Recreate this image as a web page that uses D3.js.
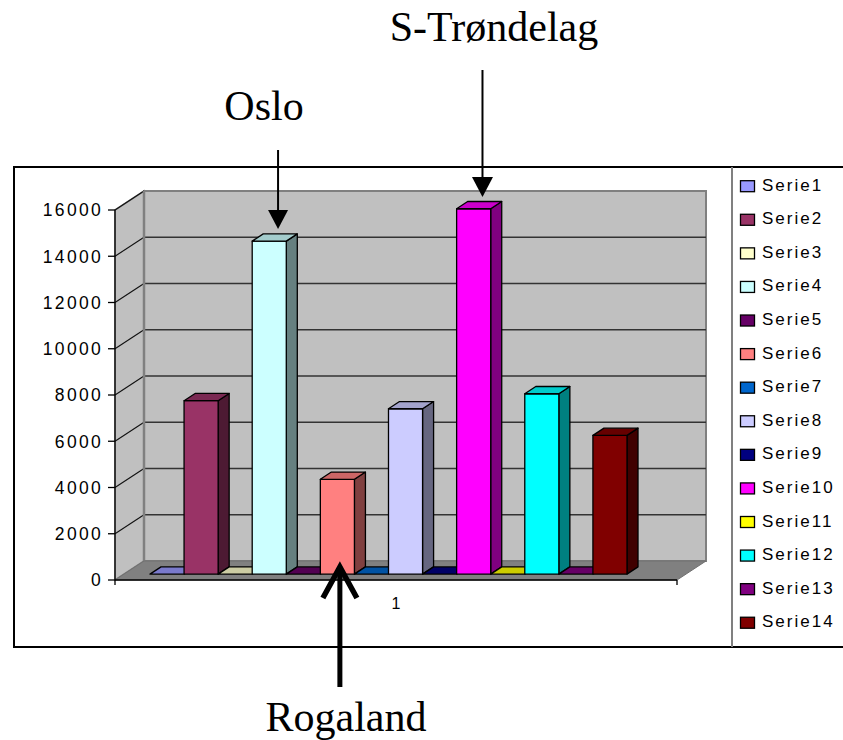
<!DOCTYPE html>
<html>
<head>
<meta charset="utf-8">
<script src="https://cdn.jsdelivr.net/npm/d3@7/dist/d3.min.js"></script>
<style>
  html, body { margin: 0; padding: 0; background: #fff; }
  svg { display: block; }
</style>
</head>
<body>
<svg id="chart" width="843" height="740"></svg>
<script>
// ---- data ----
const categories = ["1"];
const seriesNames = ["Serie1","Serie2","Serie3","Serie4","Serie5","Serie6","Serie7",
                     "Serie8","Serie9","Serie10","Serie11","Serie12","Serie13","Serie14"];
const seriesValues = [0, 7500, 0, 14400, 0, 4100, 0, 7150, 0, 15800, 0, 7800, 0, 6000];
const seriesColors = ["#9999FF","#993366","#FFFFCC","#CCFFFF","#660066","#FF8080","#0066CC",
                      "#CCCCFF","#000080","#FF00FF","#FFFF00","#00FFFF","#800080","#800000"];
const yTickValues = [0, 2000, 4000, 6000, 8000, 10000, 12000, 14000, 16000];
const annotationLabels = ["Oslo", "S-Trøndelag", "Rogaland"];
const annotationSeries = ["Serie4", "Serie10", "Serie6"];

// ---- layout ----
const svg = d3.select("#chart");
const plot = { left: 115, right: 677, bottom: 580, top: 210 };
const depth = { dx: 29, dy: -19 };          // full depth of the 3D box
const barDepth = { start: 0.31, end: 0.69 }; // bar position inside depth

const y = d3.scaleLinear().domain([0, 16000]).range([plot.bottom, plot.top]);
const xCat = d3.scaleBand().domain(categories).range([plot.left, plot.right]);
const xSer = d3.scaleBand().domain(seriesNames).range([141, 618]).paddingInner(0);
const dz = d3.scaleLinear().domain([0, 1]).range([0, 1]);
const off = t => ({ x: depth.dx * dz(t), y: depth.dy * dz(t) });

const pts = a => a.map(p => p.join(",")).join(" ");

// ---- chart frame ----
svg.append("path")
  .attr("d", `M843,167 L14,167 L14,647 L843,647`)
  .attr("fill", "none").attr("stroke", "#000").attr("stroke-width", 2);
svg.append("line")
  .attr("x1", 732).attr("x2", 732).attr("y1", 167).attr("y2", 647)
  .attr("stroke", "#808080").attr("stroke-width", 2);

// ---- walls ----
const b = off(1);
const g = svg.append("g");
// back wall
g.append("rect")
  .attr("x", plot.left + b.x).attr("y", plot.top + b.y)
  .attr("width", plot.right - plot.left).attr("height", plot.bottom - plot.top)
  .attr("fill", "#C0C0C0").attr("stroke", "#808080").attr("stroke-width", 2);
// left wall
g.append("polygon")
  .attr("points", pts([[plot.left, plot.bottom],[plot.left, plot.top],
                       [plot.left + b.x, plot.top + b.y],[plot.left + b.x, plot.bottom + b.y]]))
  .attr("fill", "#C0C0C0").attr("stroke", "#808080").attr("stroke-width", 1.5);
// gridlines
yTickValues.filter(v => v > 0 && v < 16000).forEach(v => {
  g.append("line")
    .attr("x1", plot.left + b.x).attr("x2", plot.right + b.x)
    .attr("y1", y(v) + b.y).attr("y2", y(v) + b.y)
    .attr("stroke", "#333").attr("stroke-width", 1.3);
});
yTickValues.filter(v => v > 0).forEach(v => {
  g.append("line")
    .attr("x1", plot.left).attr("x2", plot.left + b.x)
    .attr("y1", y(v)).attr("y2", y(v) + b.y)
    .attr("stroke", "#111").attr("stroke-width", 1.1);
});
g.append("line")
  .attr("x1", plot.left + b.x).attr("x2", plot.left + b.x)
  .attr("y1", plot.top + b.y).attr("y2", plot.bottom + b.y)
  .attr("stroke", "#808080").attr("stroke-width", 2.5);
// floor
g.append("polygon")
  .attr("points", pts([[plot.left, plot.bottom],[plot.right, plot.bottom],
                       [plot.right + b.x, plot.bottom + b.y],[plot.left + b.x, plot.bottom + b.y]]))
  .attr("fill", "#808080").attr("stroke", "#707070").attr("stroke-width", 1);

// ---- axes ----
const axisG = svg.append("g");
axisG.append("line")
  .attr("x1", plot.left).attr("x2", plot.left)
  .attr("y1", plot.top).attr("y2", plot.bottom + 5)
  .attr("stroke", "#000").attr("stroke-width", 1.3);
axisG.append("line")
  .attr("x1", plot.left).attr("x2", plot.right)
  .attr("y1", plot.bottom).attr("y2", plot.bottom)
  .attr("stroke", "#000").attr("stroke-width", 1.3);
axisG.append("line")
  .attr("x1", plot.right).attr("x2", plot.right)
  .attr("y1", plot.bottom).attr("y2", plot.bottom + 5)
  .attr("stroke", "#000").attr("stroke-width", 1.3);
yTickValues.forEach(v => {
  axisG.append("line")
    .attr("x1", plot.left - 7).attr("x2", plot.left)
    .attr("y1", y(v)).attr("y2", y(v))
    .attr("stroke", "#000").attr("stroke-width", 1.3);
  axisG.append("text")
    .attr("x", 103).attr("y", y(v)).attr("dy", "0.36em")
    .attr("text-anchor", "end")
    .attr("font-family", "'Liberation Sans', Arial, sans-serif")
    .attr("font-size", 17.5).attr("letter-spacing", "2.3px")
    .attr("fill", "#000").text(d3.format("d")(v));
});
categories.forEach(c => {
  axisG.append("text")
    .attr("x", xCat(c) + xCat.bandwidth() / 2).attr("y", 609)
    .attr("text-anchor", "middle")
    .attr("font-family", "'Liberation Sans', Arial, sans-serif")
    .attr("font-size", 16).attr("fill", "#000").text(c);
});

// ---- bars ----
const f = off(barDepth.start), k = off(barDepth.end);
const bdx = k.x - f.x, bdy = k.y - f.y;
const shade = (c, m) => { const r = d3.rgb(c); return d3.rgb(r.r * m, r.g * m, r.b * m).toString(); };
const barsG = svg.append("g");
seriesNames.forEach((s, i) => {
  const v = seriesValues[i];
  const x0 = xSer(s) + f.x, x1 = x0 + xSer.bandwidth();
  const yb = y(0) + f.y, yt = y(v) + f.y;
  const col = seriesColors[i];
  const bg = barsG.append("g").attr("stroke", "#000").attr("stroke-width", 1.3).attr("stroke-linejoin", "round");
  if (v > 0) {
    bg.append("polygon").attr("points", pts([[x1, yb],[x1 + bdx, yb + bdy],[x1 + bdx, yt + bdy],[x1, yt]]))
      .attr("fill", shade(col, 0.5));
    bg.append("rect").attr("x", x0).attr("y", yt).attr("width", x1 - x0).attr("height", yb - yt)
      .attr("fill", col);
  }
  bg.append("polygon").attr("points", pts([[x0, yt],[x1, yt],[x1 + bdx, yt + bdy],[x0 + bdx, yt + bdy]]))
    .attr("fill", shade(col, 0.8));
});

// ---- annotations ----
const ann = svg.append("g");
const serif = "'Liberation Serif', 'Times New Roman', serif";
function barTopCenter(name) {
  const i = seriesNames.indexOf(name);
  return { x: xSer(name) + f.x + xSer.bandwidth() / 2 + bdx * 0.8, y: y(seriesValues[i]) + f.y };
}
// Oslo
{
  const t = barTopCenter(annotationSeries[0]);
  ann.append("text").attr("x", 264).attr("y", 120).attr("text-anchor", "middle")
    .attr("font-family", serif).attr("font-size", 42).text(annotationLabels[0]);
  ann.append("line").attr("x1", t.x).attr("x2", t.x).attr("y1", 150).attr("y2", 212)
    .attr("stroke", "#000").attr("stroke-width", 2);
  ann.append("polygon").attr("points", pts([[t.x - 10, 210],[t.x + 10, 210],[t.x, 229]])).attr("fill", "#000");
}
// S-Trøndelag
{
  const t = barTopCenter(annotationSeries[1]);
  ann.append("text").attr("x", 494).attr("y", 41).attr("text-anchor", "middle")
    .attr("font-family", serif).attr("font-size", 42).text(annotationLabels[1]);
  ann.append("line").attr("x1", t.x).attr("x2", t.x).attr("y1", 70).attr("y2", 178)
    .attr("stroke", "#000").attr("stroke-width", 2);
  ann.append("polygon").attr("points", pts([[t.x - 10.5, 177],[t.x + 10.5, 177],[t.x, 197]])).attr("fill", "#000");
}
// Rogaland
{
  const cx = xSer(annotationSeries[2]) + f.x + xSer.bandwidth() / 2 + 2.5;
  ann.append("text").attr("x", 346).attr("y", 731).attr("text-anchor", "middle")
    .attr("font-family", serif).attr("font-size", 42).text(annotationLabels[2]);
  ann.append("line").attr("x1", cx).attr("x2", cx).attr("y1", 568).attr("y2", 687)
    .attr("stroke", "#000").attr("stroke-width", 5);
  ann.append("polyline").attr("points", pts([[cx - 17, 598],[cx, 567],[cx + 17, 598]]))
    .attr("fill", "none").attr("stroke", "#000").attr("stroke-width", 5.5)
    .attr("stroke-linejoin", "miter");
}

// ---- legend ----
const leg = svg.append("g");
seriesNames.forEach((s, i) => {
  const by = 190.7 + i * 33.58;
  leg.append("rect").attr("x", 740.5).attr("y", by - 10).attr("width", 14).attr("height", 11)
    .attr("fill", seriesColors[i]).attr("stroke", "#000").attr("stroke-width", 1.3);
  leg.append("text").attr("x", 762).attr("y", by)
    .attr("font-family", "'Liberation Sans', Arial, sans-serif")
    .attr("font-size", 17).attr("letter-spacing", "2px").attr("fill", "#000").text(s);
});
</script>
</body>
</html>
